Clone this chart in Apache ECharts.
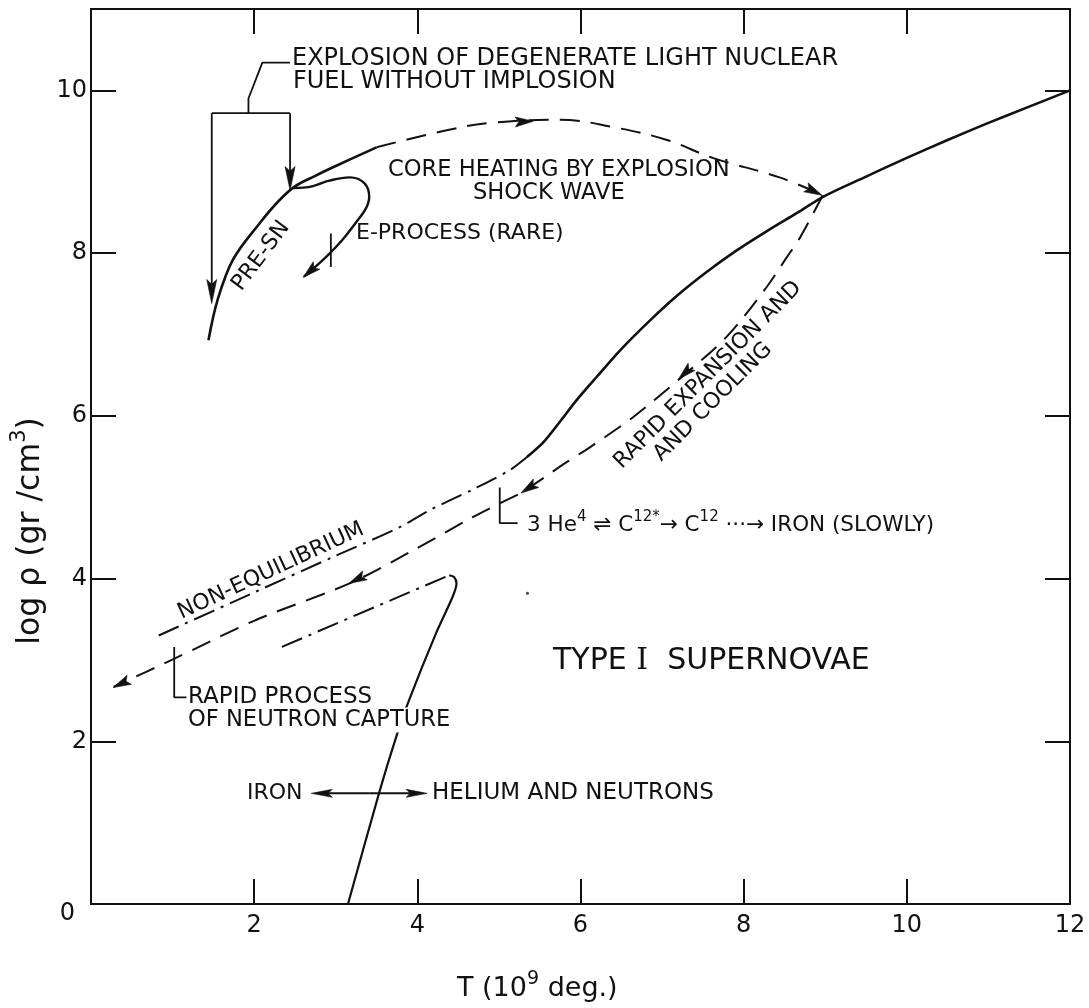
<!DOCTYPE html>
<html>
<head>
<meta charset="utf-8">
<script src="https://cdn.jsdelivr.net/npm/echarts@6/dist/echarts.min.js"></script>
<style>
html,body{margin:0;padding:0;background:#fff;}
#chart{width:1089px;height:1008px;}
</style>
</head>
<body>
<div id="chart"></div>
<script>
// ---------------- data (T in 10^9 deg, log rho) ----------------
const xTickLabels = ['', '2', '4', '6', '8', '10', '12'];
const yTickLabels = ['0', '2', '4', '6', '8', '10'];

const equilibrium = [[5.34,5.49],[5.55,5.68],[5.75,5.93],[5.95,6.19],[6.20,6.48],[6.50,6.82],[6.85,7.17],[7.20,7.49],[7.55,7.77],[7.91,8.03],[8.30,8.28],[8.65,8.49],[8.99,8.70],[9.50,8.94],[10.0,9.17],[10.5,9.39],[11.0,9.60],[11.5,9.80],[12.0,10.0]];
const preSN = [[1.44,6.93],[1.55,7.42],[1.74,7.92],[2.07,8.37],[2.30,8.64],[2.50,8.82],[2.75,8.95],[3.00,9.07],[3.50,9.30]];
const coreHeating = [[3.50,9.30],[4.36,9.51],[4.90,9.60],[5.74,9.64],[6.39,9.55],[7.06,9.39],[7.62,9.17],[8.44,8.93],[8.97,8.71]];
const expansionCooling = [[8.97,8.71],[8.69,8.19],[8.53,7.95],[8.28,7.58],[7.79,6.97],[7.22,6.46],[6.64,5.98],[6.11,5.61],[5.83,5.43],[5.28,5.06],[5.04,4.94],[4.67,4.75],[3.90,4.32],[3.17,3.94],[2.02,3.49],[0.99,3.00],[0.28,2.67]];
const nonEquilibrium = [[0.83,3.30],[2.00,3.83],[3.00,4.28],[3.78,4.63],[4.15,4.84],[4.67,5.09],[5.13,5.33],[5.34,5.49]];
const lowerDashDot = [[2.34,3.16],[4.39,4.04]];
const ironHelium = [[4.39,4.04],[4.45,4.02],[4.48,3.94],[4.43,3.77],[4.23,3.33],[3.90,2.51],[3.74,2.05],[3.53,1.36],[3.15,0.0]];
const eProcess = [[2.48,8.80],[2.71,8.82],[2.92,8.89],[3.17,8.93],[3.35,8.86],[3.41,8.69],[3.37,8.55],[3.25,8.38],[3.08,8.16],[2.88,7.95],[2.61,7.71]];

// annotation leader lines
const explosionLeader = [[2.44,10.34],[2.10,10.34],[1.93,9.90],[1.93,9.72]];
const explosionBracket = [[1.48,9.72],[2.44,9.72]];
const eProcessCross = [[2.94,7.83],[2.94,8.24]];
const heliumBracket = [[5.01,5.12],[5.01,4.68],[5.23,4.68]];
const rapidBracket = [[1.02,3.16],[1.02,2.54],[1.17,2.54]];
const specks = [[5.35,3.82]];

// arrows [tail, tip]
const bracketArrows = [[[1.48,9.72],[1.48,7.38]],[[2.44,9.72],[2.44,8.77]]];
const heatingArrows = [[[5.15,9.61],[5.42,9.62]],[[8.70,8.84],[8.96,8.71]]];
const coolingArrows = [[[7.38,6.62],[7.20,6.45]],[[5.50,5.20],[5.27,5.05]],[[3.40,4.06],[3.16,3.94]],[[0.50,2.77],[0.27,2.66]]];
const eProcessArrows = [[[2.80,7.88],[2.60,7.70]]];
const ironArrows = [[[3.41,1.36],[2.70,1.36]],[[3.41,1.36],[4.12,1.36]]];

// ---------------- chart ----------------
const INK = '#111111';
const FONT = '"DejaVu Sans", "Liberation Sans", sans-serif';
const DASH = [20, 11];
const DASHDOT = [22, 7, 3, 7];

function curve(name, data, type, width, smooth) {
  return {
    name: name, type: 'line', data: data, showSymbol: false, symbol: 'none',
    smooth: smooth, silent: true, animation: false, z: 3,
    lineStyle: { color: INK, width: width, type: type, cap: 'butt' },
    emphasis: { disabled: true }
  };
}
function arrowSeries(name, list, headLen, headW, shaftW) {
  return {
    name: name, type: 'custom', silent: true, animation: false, z: 4,
    data: list.map(function (a) { return [a[0][0], a[0][1], a[1][0], a[1][1]]; }),
    encode: { x: [0, 2], y: [1, 3] },
    renderItem: function (params, api) {
      const p0 = api.coord([api.value(0), api.value(1)]);
      const p1 = api.coord([api.value(2), api.value(3)]);
      let dx = p1[0] - p0[0], dy = p1[1] - p0[1];
      const len = Math.sqrt(dx * dx + dy * dy) || 1;
      dx /= len; dy /= len;
      const nx = -dy, ny = dx;
      const bx = p1[0] - dx * headLen, by = p1[1] - dy * headLen;
      const mx = p1[0] - dx * headLen * 0.8, my = p1[1] - dy * headLen * 0.8;
      const children = [];
      if (shaftW > 0) {
        children.push({ type: 'line', shape: { x1: p0[0], y1: p0[1], x2: mx, y2: my }, style: { stroke: INK, lineWidth: shaftW } });
      }
      children.push({
        type: 'polygon',
        shape: { points: [[p1[0], p1[1]], [bx + nx * headW / 2, by + ny * headW / 2], [mx, my], [bx - nx * headW / 2, by - ny * headW / 2]] },
        style: { fill: INK, stroke: INK, lineWidth: 0.6 }
      });
      return { type: 'group', children: children };
    }
  };
}

const axisCommon = {
  type: 'value',
  axisLine: { show: true, onZero: false, lineStyle: { color: INK, width: 2 } },
  axisTick: { show: true, inside: true, length: 25, lineStyle: { color: INK, width: 2 } },
  splitLine: { show: false }
};

const series = [
  curve('equilibrium', equilibrium, 'solid', 2.6, 0.3),
  curve('preSN', preSN, 'solid', 2.6, 0.35),
  curve('coreHeating', coreHeating, DASH, 2, 0.4),
  curve('cooling', expansionCooling, DASH, 2, 0.3),
  curve('nonEquilibrium', nonEquilibrium, DASHDOT, 2, 0.3),
  curve('lowerDashDot', lowerDashDot, DASHDOT, 2, 0),
  curve('ironHelium', ironHelium, 'solid', 2.2, 0.25),
  curve('eProcess', eProcess, 'solid', 2.4, 0.4),
  curve('explosionLeader', explosionLeader, 'solid', 1.8, 0),
  curve('explosionBracket', explosionBracket, 'solid', 1.8, 0),
  curve('eProcessCross', eProcessCross, 'solid', 1.8, 0),
  curve('heliumBracket', heliumBracket, 'solid', 1.8, 0),
  curve('rapidBracket', rapidBracket, 'solid', 1.8, 0),
  arrowSeries('bracketArrows', bracketArrows, 24, 10, 1.8),
  arrowSeries('heatingArrows', heatingArrows, 18, 10, 0),
  arrowSeries('coolingArrows', coolingArrows, 18, 10, 0),
  arrowSeries('eProcessArrows', eProcessArrows, 18, 10, 0),
  arrowSeries('ironArrows', ironArrows, 21, 8, 2),
  { type: 'scatter', data: specks, symbolSize: 3, itemStyle: { color: INK }, silent: true, animation: false }
];

function txt(text, x, y, size, extra) {
  const e = {
    type: 'text', x: x, y: y, z: 50, silent: true,
    style: Object.assign({ text: text, fill: INK, font: size + 'px ' + FONT, align: 'left', verticalAlign: 'middle' }, (extra && extra.style) || {})
  };
  if (extra && extra.rotation) e.rotation = extra.rotation;
  return e;
}
const deg = Math.PI / 180;
const supRich = function (size, supSize, lh) {
  return {
    a: { fontSize: size, fontFamily: FONT, fill: INK, lineHeight: size + lh, verticalAlign: 'bottom' },
    s: { fontSize: supSize, fontFamily: FONT, fill: INK, lineHeight: size + lh, verticalAlign: 'top' }
  };
};

const graphics = [
  txt('EXPLOSION OF DEGENERATE LIGHT NUCLEAR', 292, 59, 24),
  txt('FUEL WITHOUT IMPLOSION', 293, 82, 24),
  txt('CORE HEATING BY EXPLOSION', 388, 170, 22.6),
  txt('SHOCK WAVE', 473, 193, 22.6),
  txt('E-PROCESS (RARE)', 356, 233, 22),
  txt('PRE-SN', 261, 256, 22, { rotation: 53 * deg, style: { align: 'center' } }),
  txt('RAPID EXPANSION AND', 708, 375, 22, { rotation: 45 * deg, style: { align: 'center' } }),
  txt('AND COOLING', 713, 402, 22, { rotation: 45 * deg, style: { align: 'center' } }),
  txt('NON-EQUILIBRIUM', 271, 571, 22, { rotation: 25 * deg, style: { align: 'center' } }),
  {
    type: 'text', x: 527, y: 523, z: 50, silent: true,
    style: {
      text: '{a|3 He}{s|4}{a| ⇌ C}{s|12*}{a|→ C}{s|12}{a| ···→ IRON (SLOWLY)}',
      align: 'left', verticalAlign: 'middle',
      rich: supRich(21.5, 15, 5)
    }
  },
  {
    type: 'text', x: 553, y: 661, z: 50, silent: true,
    style: {
      text: '{a|TYPE }{b|I}{a|  SUPERNOVAE}', align: 'left', verticalAlign: 'middle',
      rich: {
        a: { fontSize: 30, fontFamily: FONT, fill: INK },
        b: { fontSize: 30, fontFamily: '"DejaVu Serif", serif', fill: INK }
      }
    }
  },
  txt('RAPID PROCESS', 188, 697, 23, { style: { backgroundColor: '#fff', padding: [1, 2, 1, 0] } }),
  txt('OF NEUTRON CAPTURE', 188, 720, 22.6, { style: { backgroundColor: '#fff', padding: [1, 2, 1, 0] } }),
  txt('IRON', 247, 793, 22),
  txt('HELIUM AND NEUTRONS', 432, 793, 23),
  {
    type: 'text', x: 457, y: 986, z: 50, silent: true,
    style: { text: '{a|T (10}{s|9}{a| deg.)}', align: 'left', verticalAlign: 'middle', rich: supRich(27, 19, 6) }
  },
  {
    type: 'text', x: 28, y: 531, z: 50, silent: true, rotation: 90 * deg,
    style: { text: '{a|log ρ (gr /cm}{s|3}{a|)}', align: 'center', verticalAlign: 'middle', rich: supRich(31.5, 21, 6) }
  }
];

const option = {
  backgroundColor: '#ffffff',
  animation: false,
  grid: { left: 91, right: 19, top: 9, bottom: 104, containLabel: false, outerBoundsMode: 'none' },
  xAxis: [
    Object.assign({}, axisCommon, {
      min: 0, max: 12, interval: 2, position: 'bottom',
      axisLabel: {
        show: true, margin: 10, color: INK, fontSize: 24, fontFamily: FONT,
        formatter: function (v) { return xTickLabels[Math.round(v / 2)] || ''; }
      }
    }),
    Object.assign({}, axisCommon, { min: 0, max: 12, interval: 2, position: 'top', axisLabel: { show: false } })
  ],
  yAxis: [
    Object.assign({}, axisCommon, {
      min: 0, max: 11, interval: 2, position: 'left',
      axisLabel: {
        show: true, margin: 4, color: INK, fontSize: 24, fontFamily: FONT,
        formatter: function (v) { const t = yTickLabels[Math.round(v / 2)]; return v === 0 ? '{z|' + t + '}' : (t || ''); },
        rich: { z: { fontSize: 24, fontFamily: FONT, color: INK, padding: [20, 12, 0, 0] } }
      }
    }),
    Object.assign({}, axisCommon, { min: 0, max: 11, interval: 2, position: 'right', axisLabel: { show: false } })
  ],
  series: series,
  graphic: graphics
};

const chart = echarts.init(document.getElementById('chart'));
chart.setOption(option);
</script>
</body>
</html>
